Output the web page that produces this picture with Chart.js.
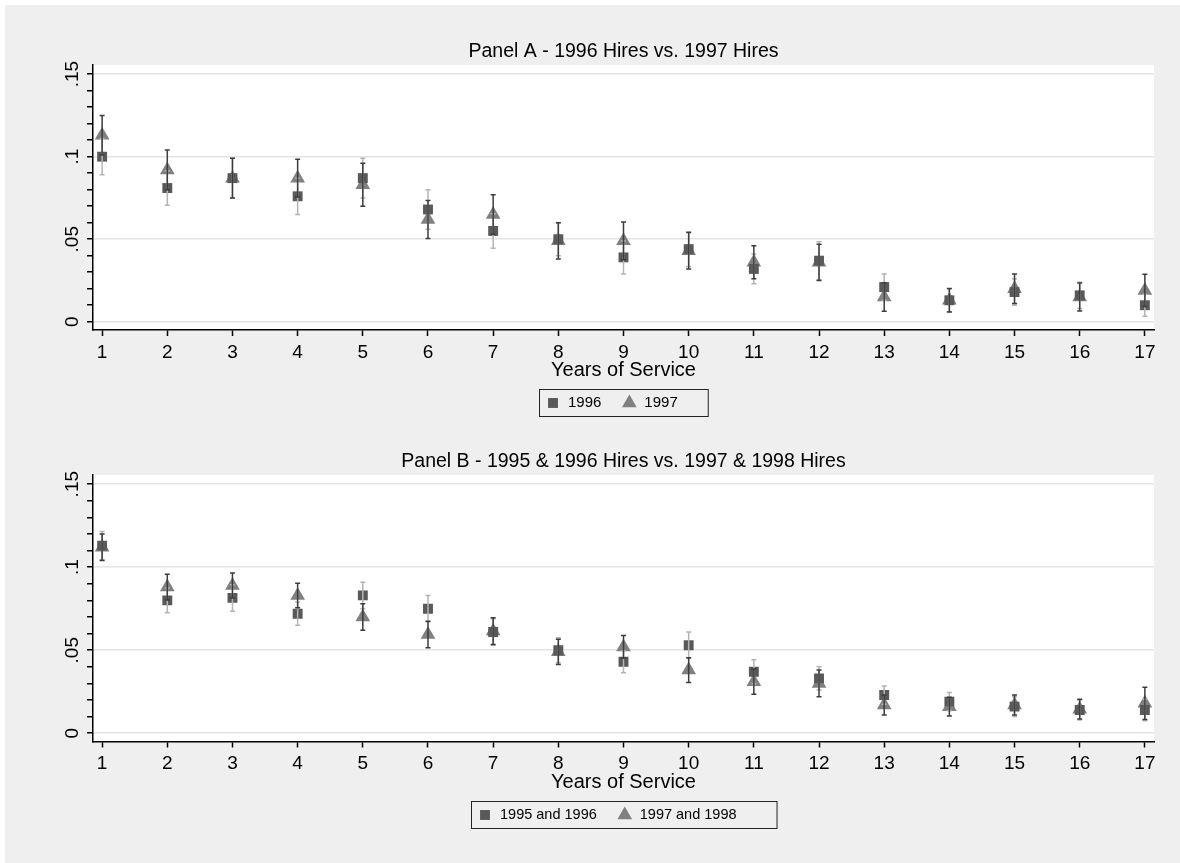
<!DOCTYPE html>
<html>
<head>
<meta charset="utf-8">
<script src="https://cdn.jsdelivr.net/npm/chart.js@4/dist/chart.umd.min.js"></script>
<style>
  html, body { margin: 0; padding: 0; background: #fff; }
  #wrap { position: absolute; left: 5px; top: 5px; width: 1175px; height: 858px; background: #efefef; }
  .panel { position: absolute; left: 0; }
</style>
</head>
<body>
<div id="wrap">
  <canvas id="panelA" class="panel" style="top:0" width="1175" height="420"></canvas>
  <canvas id="panelB" class="panel" style="top:420px" width="1175" height="438"></canvas>
</div>
<script>
// years of service on the x axis
const years = [1, 2, 3, 4, 5, 6, 7, 8, 9, 10, 11, 12, 13, 14, 15, 16, 17];

// y axis: minor ticks every .01, labels at the majors
const yTicks = [0, 0.01, 0.02, 0.03, 0.04, 0.05, 0.06, 0.07, 0.08, 0.09, 0.1, 0.11, 0.12, 0.13, 0.14, 0.15];
const yLabelVals = [0, 0.05, 0.1, 0.15];
const yLabelText = ['0', '.05', '.1', '.15'];

// Panel A - 1996 vs 1997 hires (point estimate and half width of the interval)
const hires1996 = [0.100, 0.081, 0.087, 0.076, 0.087, 0.068, 0.055, 0.050, 0.039, 0.044, 0.032, 0.037, 0.021, 0.013, 0.018, 0.016, 0.010];
const hires1996Err = [0.011, 0.0105, 0.012, 0.011, 0.012, 0.012, 0.0105, 0.010, 0.010, 0.0105, 0.009, 0.0115, 0.008, 0.007, 0.008, 0.008, 0.0066];
const hires1997 = [0.113, 0.092, 0.087, 0.087, 0.083, 0.062, 0.065, 0.049, 0.049, 0.043, 0.036, 0.036, 0.015, 0.013, 0.020, 0.015, 0.019];
const hires1997Err = [0.012, 0.012, 0.012, 0.0115, 0.013, 0.0115, 0.012, 0.011, 0.0115, 0.011, 0.010, 0.011, 0.0087, 0.0071, 0.009, 0.0085, 0.0097];

// Panel B - 1995 & 1996 vs 1997 & 1998 hires
const hires9596 = [0.113, 0.080, 0.0815, 0.072, 0.083, 0.075, 0.061, 0.050, 0.043, 0.053, 0.037, 0.033, 0.023, 0.019, 0.016, 0.014, 0.014];
const hires9596Err = [0.0085, 0.0075, 0.008, 0.007, 0.008, 0.008, 0.008, 0.0075, 0.0066, 0.008, 0.0072, 0.007, 0.0055, 0.0055, 0.006, 0.006, 0.0065];
const hires9798 = [0.112, 0.088, 0.089, 0.083, 0.070, 0.0595, 0.0615, 0.049, 0.052, 0.038, 0.031, 0.030, 0.017, 0.016, 0.017, 0.0145, 0.018];
const hires9798Err = [0.008, 0.0077, 0.0075, 0.0074, 0.008, 0.008, 0.008, 0.0076, 0.0068, 0.0075, 0.0076, 0.008, 0.006, 0.0056, 0.006, 0.006, 0.0097];

Chart.defaults.font.family = '"Liberation Sans", Arial, sans-serif';
Chart.defaults.color = '#000';

function labelIndex(v) {
    return yLabelVals.findIndex(l => Math.abs(l - v) < 1e-9);
}

// white plot region
const plotBg = {
    id: 'plotBg',
    beforeDraw(chart) {
        const a = chart.chartArea;
        chart.ctx.save();
        chart.ctx.fillStyle = '#fff';
        chart.ctx.fillRect(a.left, a.top, a.right - a.left, a.bottom - a.top);
        chart.ctx.restore();
    }
};

// capped confidence intervals
const errorBars = {
    id: 'errorBars',
    afterDatasetsDraw(chart) {
        const ctx = chart.ctx, xs = chart.scales.x, ys = chart.scales.y;
        ctx.save();
        ctx.lineWidth = 1.5;
        chart.data.datasets.forEach(ds => {
            ctx.strokeStyle = ds.errColor;
            ds.data.forEach((p, i) => {
                const x = xs.getPixelForValue(p.x);
                const lo = ys.getPixelForValue(p.y - ds.err[i]);
                const hi = ys.getPixelForValue(p.y + ds.err[i]);
                ctx.beginPath();
                ctx.moveTo(x, lo); ctx.lineTo(x, hi);
                ctx.moveTo(x - 2.5, lo); ctx.lineTo(x + 2.5, lo);
                ctx.moveTo(x - 2.5, hi); ctx.lineTo(x + 2.5, hi);
                ctx.stroke();
            });
        });
        ctx.restore();
    }
};

// stata style boxed legend under the axis title
const boxLegend = {
    id: 'boxLegend',
    afterDraw(chart, args, o) {
        const ctx = chart.ctx, a = chart.chartArea;
        ctx.save();
        ctx.font = o.size + 'px "Liberation Sans", Arial, sans-serif';
        const slot = 16, gap = 7, itemGap = 20;
        const items = chart.data.datasets.map(ds => ({ ds, w: ctx.measureText(ds.label).width }));
        const content = items.reduce((s, it) => s + slot + gap + it.w, 0) + itemGap * (items.length - 1);
        const w = content + o.padL + o.padR;
        const left = Math.round((a.left + a.right) / 2 - w / 2);
        ctx.strokeStyle = '#222';
        ctx.lineWidth = 1;
        ctx.strokeRect(left + 0.5, o.top + 0.5, w, o.height);
        const cy = o.top + o.height / 2 + 0.5;
        let x = left + o.padL;
        items.forEach(it => {
            ctx.fillStyle = it.ds.backgroundColor;
            Chart.helpers.drawPoint(ctx, { pointStyle: it.ds.pointStyle, radius: it.ds.pointRadius, rotation: 0, borderWidth: 0 }, x + slot / 2, cy);
            ctx.fillStyle = '#000';
            ctx.textBaseline = 'middle';
            ctx.fillText(it.ds.label, x + slot + gap, cy);
            x += slot + gap + it.w + itemGap;
        });
        ctx.restore();
    }
};

function makePanel(id, title, titlePad, xAxisH, xTitlePad, legendBox, series) {
    const datasets = series.map(s => ({
        label: s.label,
        data: years.map((yr, i) => ({ x: yr, y: s.values[i] })),
        err: s.err,
        errColor: s.errColor,
        pointStyle: s.style,
        pointRadius: s.radius,
        backgroundColor: s.color,
        borderWidth: 0,
        showLine: false
    }));

    return new Chart(document.getElementById(id).getContext('2d'), {
        type: 'scatter',
        data: { datasets },
        options: {
            responsive: false,
            animation: false,
            events: [],
            layout: { padding: { left: 0, right: 26, top: 0, bottom: 0 } },
            scales: {
                x: {
                    type: 'linear', min: 0.86, max: 17.14,
                    afterBuildTicks: s => { s.ticks = years.map(v => ({ value: v })); },
                    afterFit: s => { s.height = xAxisH; },
                    border: { color: '#000', width: 1.5 },
                    grid: { drawOnChartArea: false, tickLength: 6, tickColor: '#000', tickWidth: 1.5 },
                    ticks: { padding: 5, autoSkip: false, maxRotation: 0, font: { size: 19 } },
                    title: { display: true, text: 'Years of Service', font: { size: 20 }, padding: { top: 0, bottom: xTitlePad } }
                },
                y: {
                    type: 'linear', min: -0.005, max: 0.1556,
                    afterBuildTicks: s => { s.ticks = yTicks.map(v => ({ value: v })); },
                    afterFit: s => { s.width = 88; },
                    border: { color: '#000', width: 1.5 },
                    grid: {
                        color: c => labelIndex(c.tick.value) >= 0 ? '#e4e4e4' : 'rgba(0,0,0,0)',
                        lineWidth: 1.5, tickLength: 6, tickColor: '#000', tickWidth: 1.5
                    },
                    ticks: {
                        callback: v => { const i = labelIndex(v); return i >= 0 ? yLabelText[i] : ''; },
                        autoSkip: false,
                        minRotation: 90, maxRotation: 90, crossAlign: 'center', padding: 1,
                        font: { size: 19 }
                    }
                }
            },
            plugins: {
                legend: { display: false },
                tooltip: { enabled: false },
                title: {
                    display: true, text: title, fullSize: false,
                    font: { size: 19.5, weight: 'normal' },
                    padding: titlePad
                },
                boxLegend: legendBox
            }
        },
        plugins: [plotBg, errorBars, boxLegend]
    });
}

makePanel('panelA', 'Panel A - 1996 Hires vs. 1997 Hires', { top: 35, bottom: 1.5 }, 95, 43,
    { top: 384, height: 27, padL: 6, padR: 30, size: 15 },
    [
        { label: '1996', values: hires1996, err: hires1996Err, style: 'rect', radius: 7, color: '#595959', errColor: '#b4b4b4' },
        { label: '1997', values: hires1997, err: hires1997Err, style: 'triangle', radius: 8.5, color: '#808080', errColor: '#3c3c3c' }
    ]);

makePanel('panelB', 'Panel B - 1995 & 1996 Hires vs. 1997 & 1998 Hires', { top: 25, bottom: 1.5 }, 121.5, 69,
    { top: 376, height: 27, padL: 6, padR: 40, size: 14.5 },
    [
        { label: '1995 and 1996', values: hires9596, err: hires9596Err, style: 'rect', radius: 7, color: '#595959', errColor: '#b4b4b4' },
        { label: '1997 and 1998', values: hires9798, err: hires9798Err, style: 'triangle', radius: 8.5, color: '#808080', errColor: '#3c3c3c' }
    ]);
</script>
</body>
</html>
